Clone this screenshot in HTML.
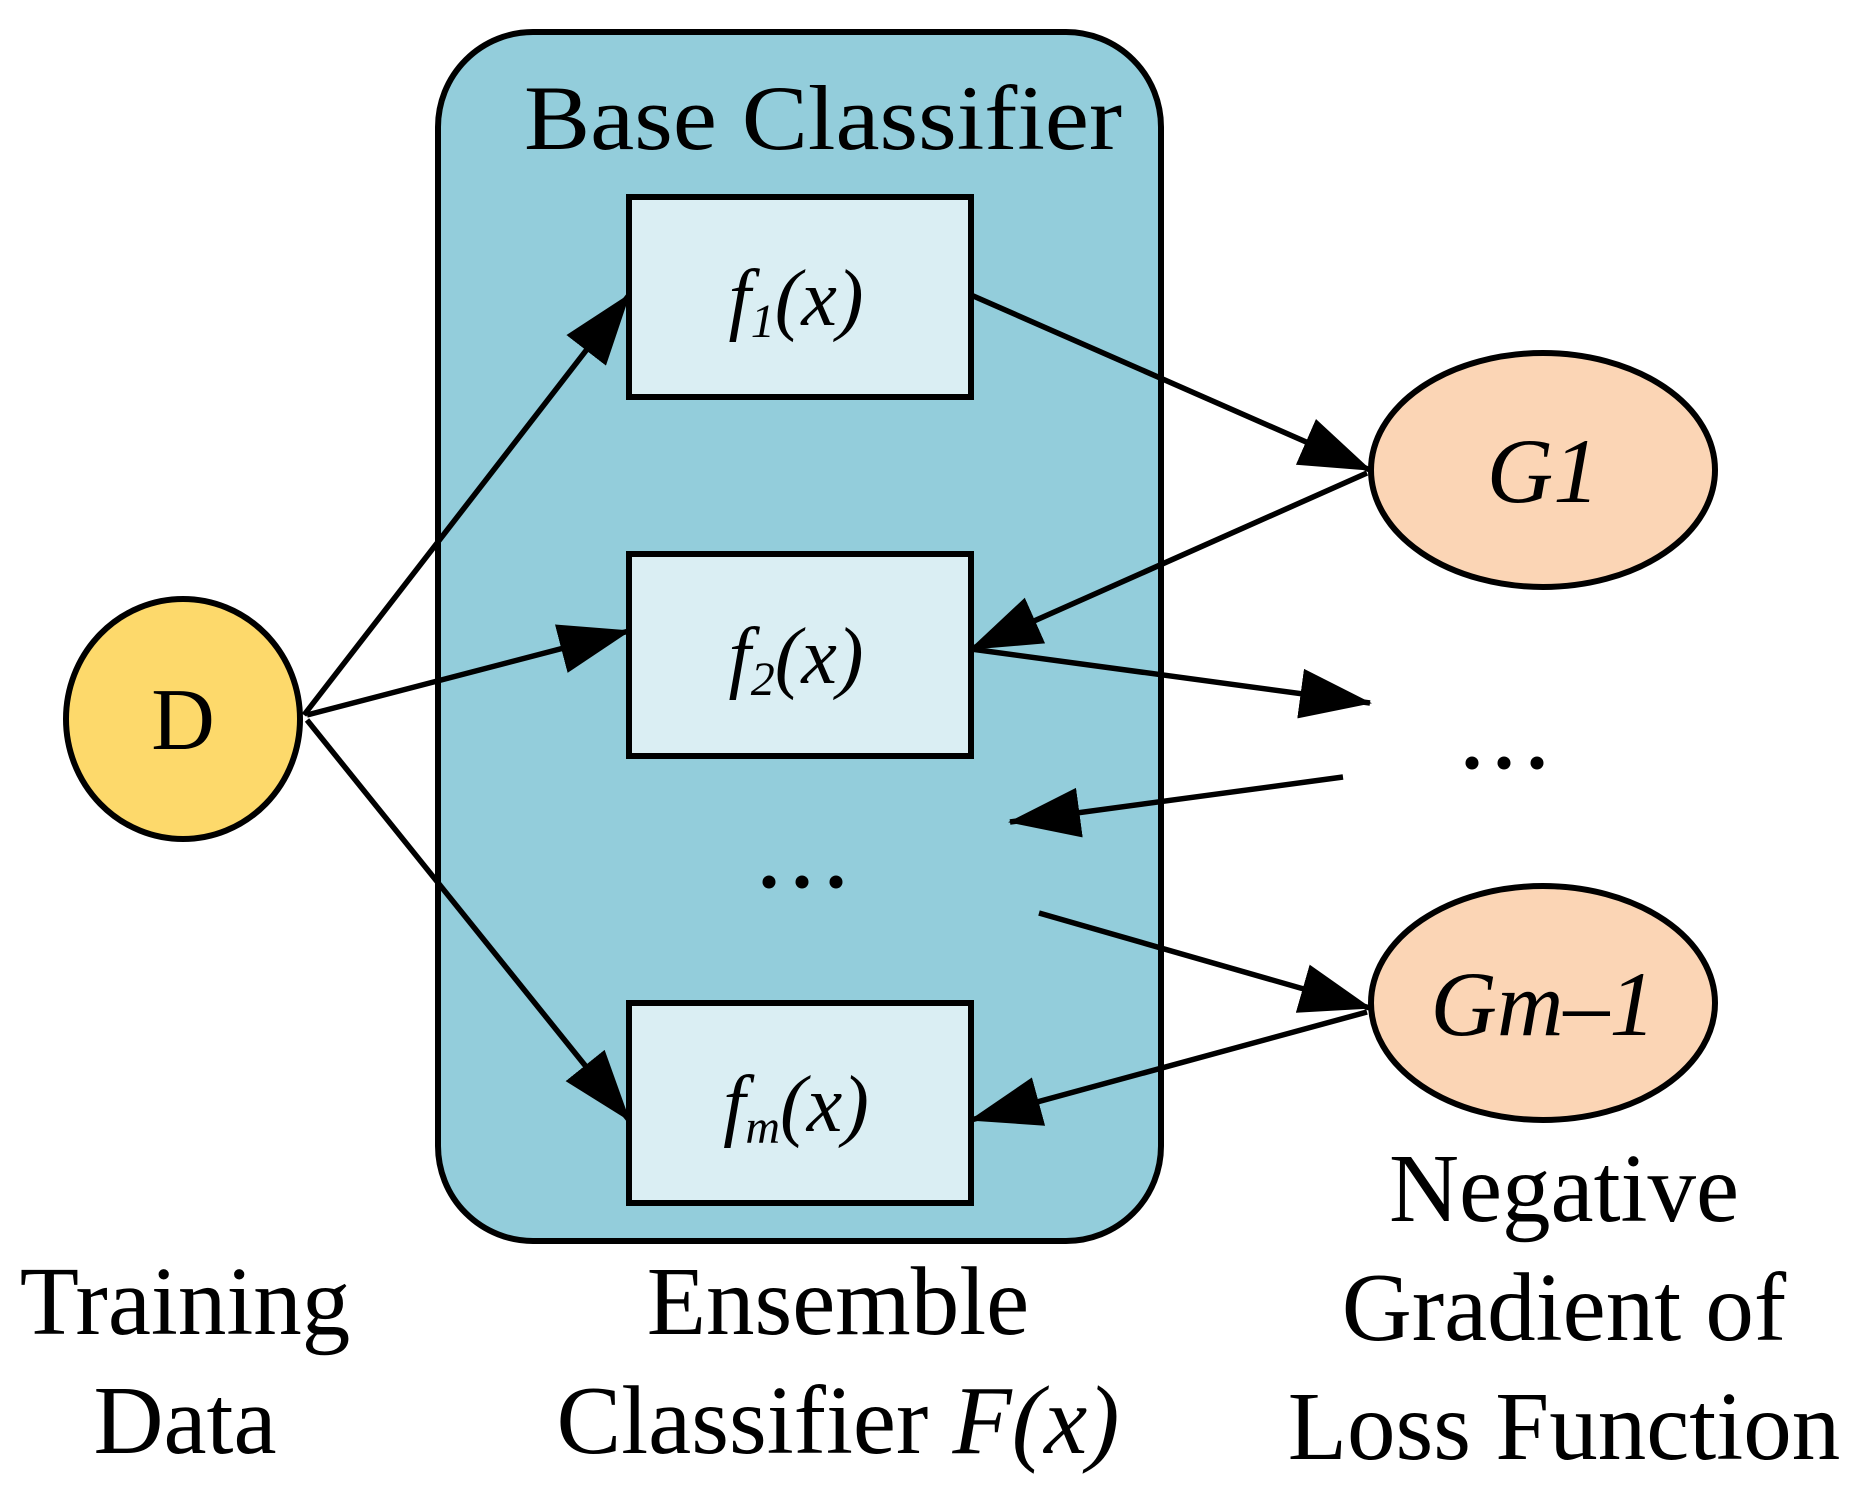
<!DOCTYPE html>
<html><head><style>html,body{margin:0;padding:0;background:#fff}svg{display:block}</style></head>
<body>
<svg width="1859" height="1491" viewBox="0 0 1859 1491" xmlns="http://www.w3.org/2000/svg" font-family="Liberation Serif, serif">
<defs>
<marker id="a" markerUnits="userSpaceOnUse" markerWidth="72" markerHeight="50" refX="70" refY="25" orient="auto">
<path d="M0,0 L72,25 L0,50 Z" fill="#000"/>
</marker>
</defs>
<rect x="438" y="32" width="723" height="1209" rx="95" fill="#93cddb" stroke="#000" stroke-width="6"/>
<text x="823" y="149" font-size="92" text-anchor="middle" textLength="598" lengthAdjust="spacingAndGlyphs">Base Classifier</text>
<g fill="#daeef3" stroke="#000" stroke-width="6">
<rect x="629" y="197" width="342" height="200"/>
<rect x="629" y="554" width="342" height="202"/>
<rect x="629" y="1003" width="342" height="200"/>
</g>
<g font-style="italic" font-size="80" text-anchor="middle">
<text x="796" y="325">f<tspan font-size="48" dy="12">1</tspan><tspan dy="-12">(x)</tspan></text>
<text x="796" y="683">f<tspan font-size="48" dy="12">2</tspan><tspan dy="-12">(x)</tspan></text>
<text x="796" y="1131">f<tspan font-size="48" dy="12">m</tspan><tspan dy="-12">(x)</tspan></text>
</g>
<ellipse cx="183" cy="719" rx="117" ry="120" fill="#fdd96b" stroke="#000" stroke-width="6"/>
<text x="183" y="749" font-size="88" text-anchor="middle">D</text>
<ellipse cx="1543" cy="470" rx="172" ry="117" fill="#fbd5b5" stroke="#000" stroke-width="6"/>
<text x="1543" y="502" font-size="92" font-style="italic" text-anchor="middle">G1</text>
<ellipse cx="1543" cy="1003" rx="172" ry="117" fill="#fbd5b5" stroke="#000" stroke-width="6"/>
<text x="1543" y="1035" font-size="92" font-style="italic" text-anchor="middle">Gm–1</text>
<g stroke="#000" stroke-width="5.5" marker-end="url(#a)" fill="none">
<line x1="304" y1="715" x2="629" y2="295"/>
<line x1="307" y1="715" x2="629" y2="631"/>
<line x1="307" y1="720" x2="629" y2="1120"/>
<line x1="971" y1="295" x2="1370" y2="470"/>
<line x1="1367" y1="473" x2="971" y2="649"/>
<line x1="971" y1="649" x2="1370" y2="703"/>
<line x1="1343" y1="777" x2="1010" y2="822"/>
<line x1="1039" y1="913" x2="1370" y2="1008"/>
<line x1="1367" y1="1012" x2="971" y2="1120"/>
</g>
<g fill="#000">
<circle cx="1472" cy="763" r="6.5"/><circle cx="1504" cy="763" r="6.5"/><circle cx="1537" cy="763" r="6.5"/>
<circle cx="769" cy="882" r="6.5"/><circle cx="802" cy="882" r="6.5"/><circle cx="836" cy="882" r="6.5"/>
</g>
<g font-size="97" text-anchor="middle">
<text x="185" y="1334">Training</text>
<text x="185" y="1453">Data</text>
<text x="838" y="1334">Ensemble</text>
<text x="838" y="1453">Classifier <tspan font-style="italic">F(x)</tspan></text>
<text x="1564" y="1221">Negative</text>
<text x="1564" y="1340">Gradient of</text>
<text x="1564" y="1459">Loss Function</text>
</g>
</svg>
</body></html>
